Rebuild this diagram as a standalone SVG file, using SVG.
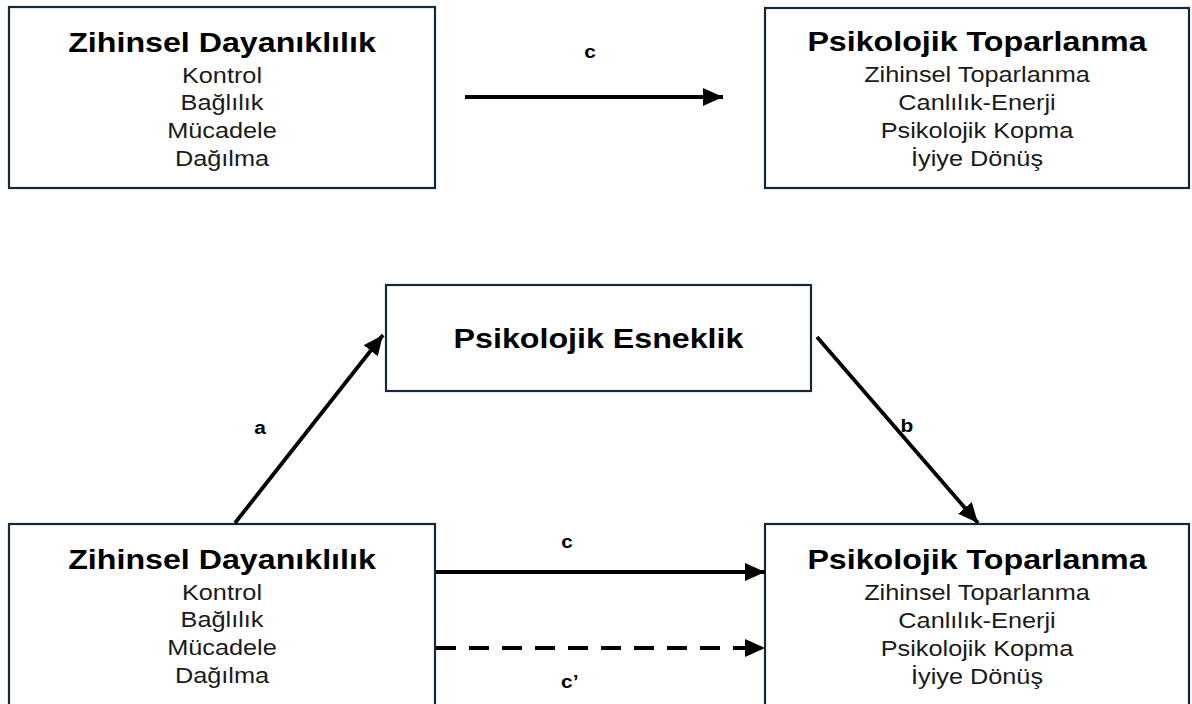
<svg xmlns="http://www.w3.org/2000/svg" width="1192" height="704" viewBox="0 0 1192 704">
<style>
.box{fill:#fff;stroke:#15293a;stroke-width:2.2}
.t{font-family:"Liberation Sans",Arial,sans-serif;font-weight:bold;font-size:28px;fill:#000;text-anchor:middle}
.s{font-family:"Liberation Sans",Arial,sans-serif;font-size:22px;fill:#1a1a1a;text-anchor:middle}
.l{font-family:"Liberation Sans",Arial,sans-serif;font-weight:bold;font-size:19px;fill:#000;text-anchor:middle}
.c{stroke:#000;stroke-width:3.8;fill:none;marker-end:url(#ah)}
.d{stroke-dasharray:20 13}
</style>
<defs>
<marker id="ah" markerUnits="userSpaceOnUse" markerWidth="21" markerHeight="18" refX="20" refY="9" orient="auto">
<path d="M0,0 L20,9 L0,18 z" fill="#000"/>
</marker>
</defs>
<rect width="1192" height="704" fill="#fff"/>
<g id="zd-top">
<rect class="box" x="9" y="7" width="426" height="181"/>
<g transform="translate(222 0) scale(1.15 1)">
<text class="t" x="0" y="52">Zihinsel Dayanıklılık</text>
<text class="s" x="0" y="83">Kontrol</text>
<text class="s" x="0" y="110">Bağlılık</text>
<text class="s" x="0" y="138">Mücadele</text>
<text class="s" x="0" y="166">Dağılma</text>
</g>
</g>
<g id="pt-top">
<rect class="box" x="765" y="8" width="424" height="180"/>
<g transform="translate(977 0) scale(1.15 1)">
<text class="t" x="0" y="51">Psikolojik Toparlanma</text>
<text class="s" x="0" y="82">Zihinsel Toparlanma</text>
<text class="s" x="0" y="110">Canlılık-Enerji</text>
<text class="s" x="0" y="138">Psikolojik Kopma</text>
<text class="s" x="0" y="166">İyiye Dönüş</text>
</g>
</g>
<g id="pe">
<rect class="box" x="386" y="285" width="425" height="106"/>
<g transform="translate(598.5 0) scale(1.15 1)">
<text class="t" x="0" y="348">Psikolojik Esneklik</text>
</g>
</g>
<g id="zd-bottom">
<rect class="box" x="9" y="524" width="426" height="200"/>
<g transform="translate(222 0) scale(1.15 1)">
<text class="t" x="0" y="569">Zihinsel Dayanıklılık</text>
<text class="s" x="0" y="600">Kontrol</text>
<text class="s" x="0" y="627">Bağlılık</text>
<text class="s" x="0" y="655">Mücadele</text>
<text class="s" x="0" y="683">Dağılma</text>
</g>
</g>
<g id="pt-bottom">
<rect class="box" x="765" y="524" width="424" height="200"/>
<g transform="translate(977 0) scale(1.15 1)">
<text class="t" x="0" y="569">Psikolojik Toparlanma</text>
<text class="s" x="0" y="600">Zihinsel Toparlanma</text>
<text class="s" x="0" y="628">Canlılık-Enerji</text>
<text class="s" x="0" y="656">Psikolojik Kopma</text>
<text class="s" x="0" y="684">İyiye Dönüş</text>
</g>
</g>
<g id="connectors">
<line class="c" x1="465" y1="97" x2="723" y2="97"/>
<line class="c" x1="235" y1="523" x2="383" y2="335"/>
<line class="c" x1="817" y1="337" x2="978" y2="523"/>
<line class="c" x1="436" y1="572" x2="765" y2="572"/>
<line class="c d" x1="436" y1="648" x2="765" y2="648"/>
<g transform="scale(1.1 1)">
<text class="l" x="536.4" y="58">c</text>
<text class="l" x="236.4" y="434">a</text>
<text class="l" x="824.5" y="432">b</text>
<text class="l" x="515.5" y="548">c</text>
<text class="l" x="518" y="688">c’</text>
</g>
</g>
</svg>
